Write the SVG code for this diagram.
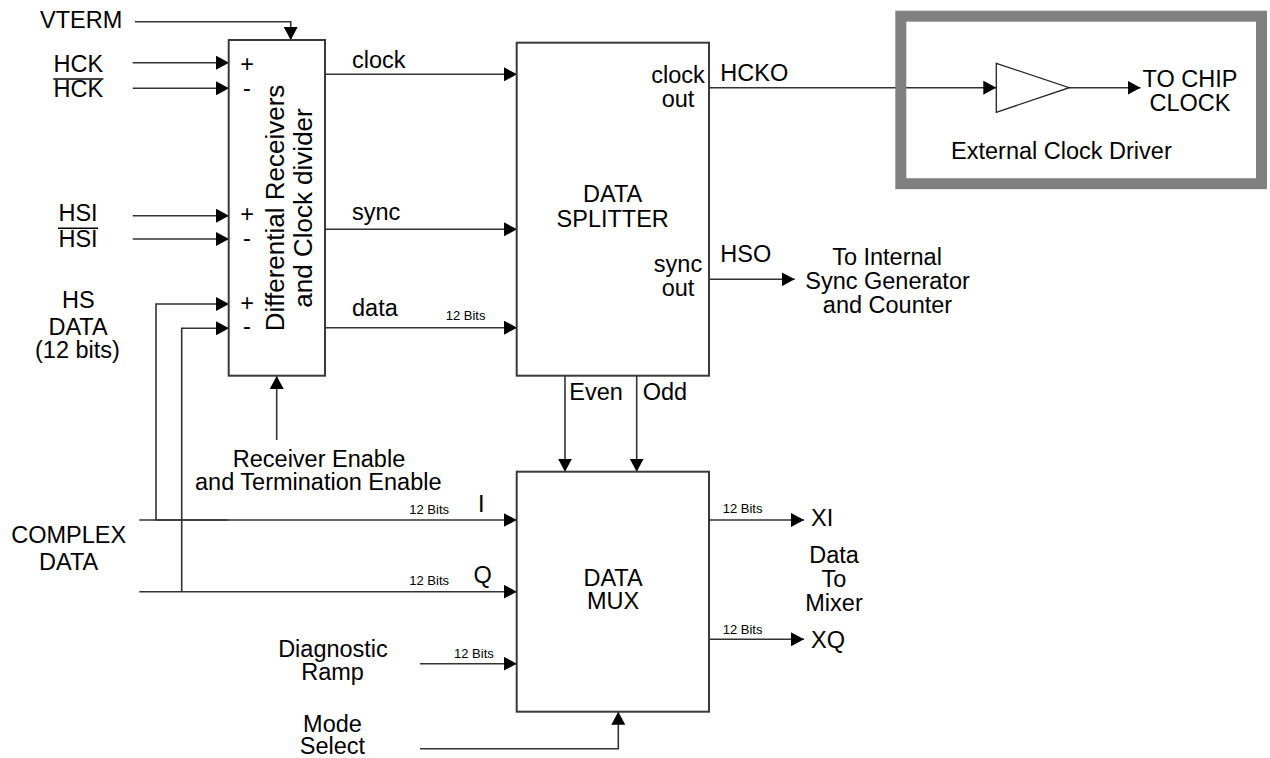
<svg xmlns="http://www.w3.org/2000/svg" width="1270" height="758" viewBox="0 0 1270 758">
<style>
text{font-family:"Liberation Sans",Arial,sans-serif;font-size:23.5px;fill:#000}
.m{text-anchor:middle}
.s{font-size:13px}
.big{font-size:26px;text-anchor:middle}
.box{fill:#fff;stroke:#3a3a3a;stroke-width:2}
.ln{fill:none;stroke:#333;stroke-width:1.6}
.ar{marker-end:url(#ah)}
</style>
<defs>
<marker id="ah" viewBox="0 0 13 14" refX="13" refY="7" markerWidth="13" markerHeight="14" markerUnits="userSpaceOnUse" orient="auto">
<path d="M0,0 L13,7 L0,14 Z" fill="#000"/>
</marker>
</defs>
<rect width="1270" height="758" fill="#fff"/>

<g id="connectors">
<path class="ln ar" d="M135,21.7 H290.7 V40"/>
<path class="ln ar" d="M132.7,62.7 H229"/>
<path class="ln ar" d="M132.7,88.3 H229"/>
<path class="ln ar" d="M132.7,215.7 H229"/>
<path class="ln ar" d="M132.7,239 H229"/>
<path class="ln ar" d="M227.7,520 H156 V304 H229"/>
<path class="ln ar" d="M181.7,591.7 V328.3 H229"/>
<path class="ln ar" d="M276.7,440 V376"/>
<path class="ln ar" d="M325,74.3 H517"/>
<path class="ln ar" d="M325,229.3 H517"/>
<path class="ln ar" d="M325,327.7 H517"/>
<path class="ln ar" d="M709,87.7 H996.3"/>
<path class="ln ar" d="M1069.2,87.7 H1140.5"/>
<path class="ln ar" d="M709,279.3 H794.7"/>
<path class="ln ar" d="M565,376 V471.7"/>
<path class="ln ar" d="M636.7,376 V471.7"/>
<path class="ln ar" d="M139.3,520 H516.7"/>
<path class="ln ar" d="M139.3,591.7 H516.7"/>
<path class="ln ar" d="M420,663.7 H516.7"/>
<path class="ln ar" d="M420,748.7 H618.3 V711.7"/>
<path class="ln ar" d="M709,520 H804"/>
<path class="ln ar" d="M709,639.3 H804"/>
</g>

<g id="inputs-left">
<text x="40" y="28.3">VTERM</text>
<text class="m" x="78.3" y="71.7">HCK</text>
<line x1="53.3" y1="79" x2="103.3" y2="79" stroke="#000" stroke-width="1.6"/>
<text class="m" x="78.3" y="96.7">HCK</text>
<text class="m" x="78" y="221">HSI</text>
<line x1="58" y1="228.3" x2="98" y2="228.3" stroke="#000" stroke-width="1.6"/>
<text class="m" x="78" y="247.3">HSI</text>
<text class="m" x="78.3" y="308.3">HS</text>
<text class="m" x="78" y="335">DATA</text>
<text class="m" x="77.5" y="358.3">(12 bits)</text>
<text class="m" x="68.7" y="543.3">COMPLEX</text>
<text class="m" x="68.7" y="570">DATA</text>
</g>

<g id="diff-receivers">
<rect class="box" x="228.7" y="40" width="96.3" height="335.7"/>
<text class="m" x="247" y="71.5">+</text>
<text class="m" x="247" y="96.2">-</text>
<text class="m" x="247" y="221.5">+</text>
<text class="m" x="247" y="246.2">-</text>
<text class="m" x="247" y="310.7">+</text>
<text class="m" x="247" y="334.2">-</text>
<text class="big" transform="translate(283.5,208) rotate(-90)">Differential Receivers</text>
<text class="big" transform="translate(312,208) rotate(-90)">and Clock divider</text>
</g>

<g id="receiver-enable">
<text class="m" x="319" y="466.7">Receiver Enable</text>
<text class="m" x="318.3" y="490">and Termination Enable</text>
</g>

<g id="signal-labels">
<text x="352" y="68.3">clock</text>
<text x="352" y="220">sync</text>
<text x="352" y="315.7">data</text>
<text class="s" x="445.7" y="320">12 Bits</text>
<text x="720.3" y="80.7">HCKO</text>
<text x="720.3" y="261.7">HSO</text>
<text x="569.3" y="400">Even</text>
<text x="642.7" y="400">Odd</text>
<text class="s" x="409.3" y="514.3">12 Bits</text>
<text x="478" y="511.7">I</text>
<text class="s" x="409.3" y="585">12 Bits</text>
<text x="473.5" y="583">Q</text>
<text class="s" x="454" y="657.7">12 Bits</text>
<text class="s" x="722.7" y="512.7">12 Bits</text>
<text class="s" x="722.7" y="634.3">12 Bits</text>
</g>

<g id="data-splitter">
<rect class="box" x="516.7" y="42.7" width="192.3" height="333"/>
<text class="m" x="612.7" y="202.3">DATA</text>
<text class="m" x="612.7" y="226.7">SPLITTER</text>
<text class="m" x="678" y="83.3">clock</text>
<text class="m" x="678" y="107.3">out</text>
<text class="m" x="678" y="272">sync</text>
<text class="m" x="678" y="296">out</text>
</g>

<g id="sync-target">
<text class="m" x="887" y="265">To Internal</text>
<text class="m" x="887.5" y="289.3">Sync Generator</text>
<text class="m" x="887.5" y="313.3">and Counter</text>
</g>

<g id="external-clock-driver">
<rect x="900.8" y="16.2" width="360.7" height="167.5" fill="none" stroke="#808080" stroke-width="11"/>
<polygon points="996.3,63.3 1069.2,87.7 996.3,112.3" fill="#fff" stroke="#222" stroke-width="1.3"/>
<text class="m" x="1190" y="87.3">TO CHIP</text>
<text class="m" x="1190" y="110.7">CLOCK</text>
<text class="m" x="1061.4" y="159.3">External Clock Driver</text>
</g>

<g id="data-mux">
<rect class="box" x="516.7" y="471.7" width="192.3" height="240"/>
<text class="m" x="613" y="585.7">DATA</text>
<text class="m" x="613" y="609.3">MUX</text>
</g>

<g id="mixer-outputs">
<text x="811" y="525.7">XI</text>
<text x="811" y="647.7">XQ</text>
<text class="m" x="834" y="562.7">Data</text>
<text class="m" x="834" y="586.7">To</text>
<text class="m" x="834" y="610.7">Mixer</text>
</g>

<g id="diagnostic-ramp">
<text class="m" x="333" y="656.7">Diagnostic</text>
<text class="m" x="332.5" y="680">Ramp</text>
</g>

<g id="mode-select">
<text class="m" x="332.5" y="731.7">Mode</text>
<text class="m" x="332.5" y="754">Select</text>
</g>
</svg>
